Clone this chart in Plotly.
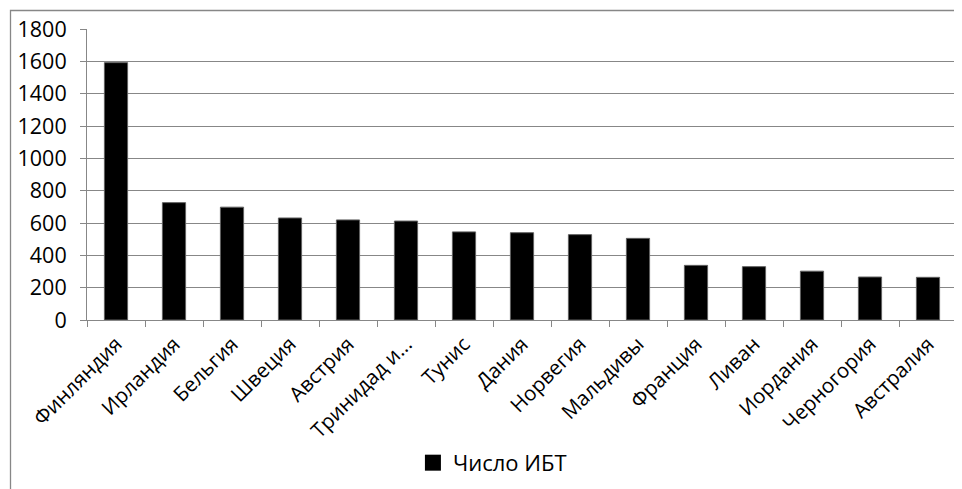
import plotly.graph_objects as go

countries = ["Финляндия", "Ирландия", "Бельгия", "Швеция", "Австрия", "Тринидад и...",
             "Тунис", "Дания", "Норвегия", "Мальдивы", "Франция", "Ливан",
             "Иордания", "Черногория", "Австралия"]
values = [1592, 726, 698, 631, 619, 612, 545, 540, 528, 505, 338, 330, 302, 266, 264]
series_name = "Число ИБТ"

FONT = "Open Sans"
GRID = "#878787"

fig = go.Figure()
fig.add_trace(go.Bar(
    x=countries, y=values, name=series_name,
    marker=dict(color="black", line=dict(color="#606060", width=1)),
    showlegend=False,
))
# legend entry with a larger square symbol
fig.add_trace(go.Scatter(
    x=[None], y=[None], mode="markers", name=series_name,
    marker=dict(symbol="square", size=16, color="black"),
    showlegend=True, hoverinfo="skip",
))

fig.update_layout(
    width=962, height=489,
    paper_bgcolor="white", plot_bgcolor="white",
    margin=dict(l=79, r=13, t=21, b=177, autoexpand=False),
    bargap=0.6,
    font=dict(family=FONT, size=20, color="black"),
    showlegend=True,
    legend=dict(orientation="h", x=0.466, y=-0.491, xanchor="center", yanchor="middle",
                font=dict(family=FONT, size=22, color="black"), itemwidth=30),
    xaxis=dict(
        type="category", tickangle=-45, tickson="boundaries",
        ticks="outside", ticklen=6, tickcolor=GRID,
        showline=True, linecolor=GRID, linewidth=1,
        showgrid=False, tickfont=dict(family=FONT, size=20.5),
        ticklabelstandoff=3,
    ),
    yaxis=dict(
        range=[0, 1800], dtick=200, tick0=0,
        ticks="outside", ticklen=6, tickcolor=GRID,
        showline=True, linecolor=GRID, linewidth=1,
        showgrid=True, gridcolor=GRID, gridwidth=1,
        zeroline=False, tickfont=dict(family=FONT, size=21.5),
        ticklabelstandoff=9,
    ),
    shapes=[dict(type="rect", xref="paper", yref="paper",
                 x0=(10.5 - 87) / 870, x1=1.2, y0=-2, y1=(320 - 10.5) / 291,
                 line=dict(color=GRID, width=1.3), fillcolor="rgba(0,0,0,0)", layer="below")],
)

fig.write_html("out.html")
